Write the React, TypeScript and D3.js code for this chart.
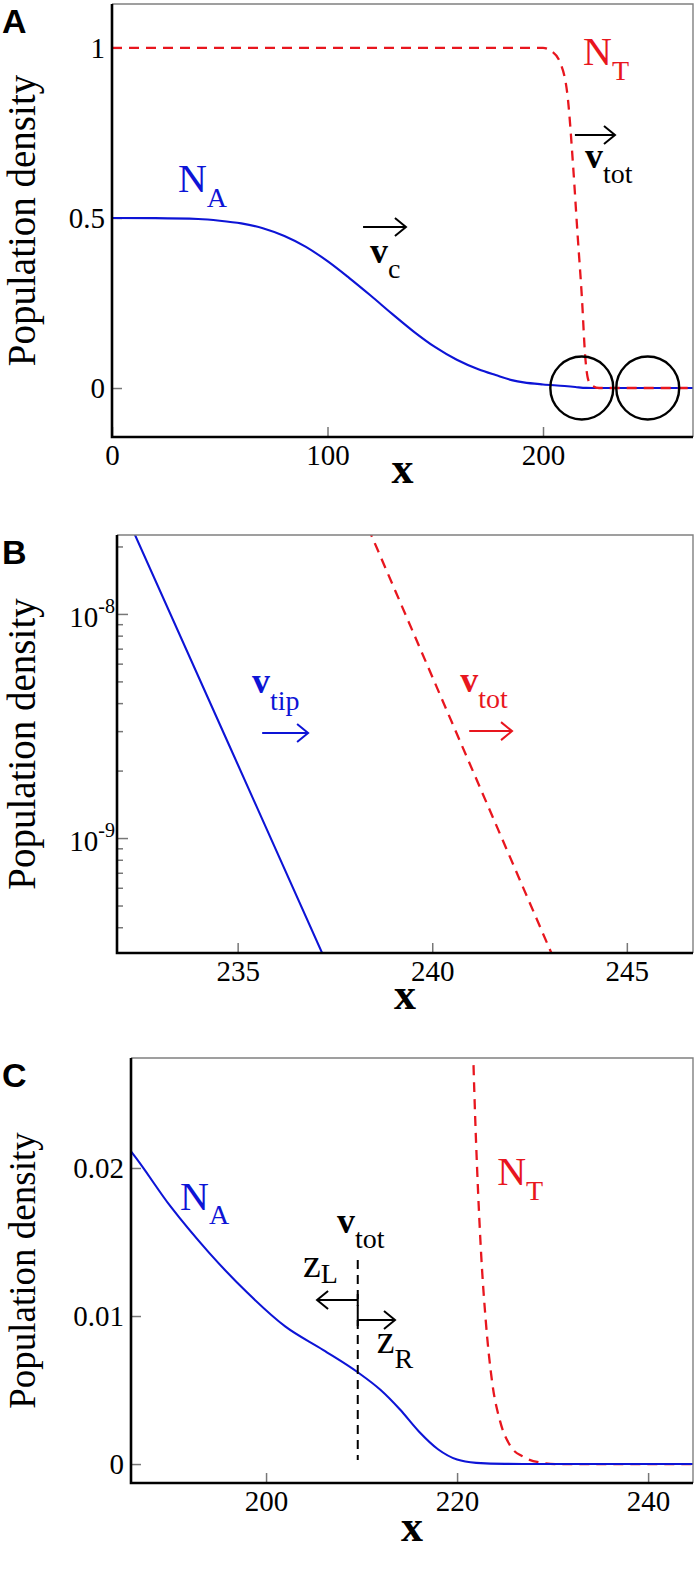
import React, { useEffect, useRef } from "react";
import * as d3 from "d3";

// ---- data ----
// Panel A: full profiles
const aNaX = [0, 20, 40, 50, 60, 70, 80, 90, 100, 110, 120, 130, 140, 150, 160, 170, 178, 186, 191, 200, 210, 215, 220, 225, 272];
const aNaY = [0.5, 0.4995, 0.497, 0.492, 0.484, 0.47, 0.447, 0.415, 0.373, 0.324, 0.272, 0.218, 0.166, 0.12, 0.083, 0.055, 0.038, 0.0225, 0.0166, 0.0105, 0.006, 0.003, 0.0003, 0, 0];
const aNtX = [0, 200, 204, 208, 211.6, 214, 216, 218.1, 219.5, 221, 223, 226, 272];
const aNtY = [1, 1, 0.99, 0.956, 0.847, 0.65, 0.455, 0.26, 0.1, 0.024, 0.006, 0, 0];

// Panel B: leading edge, log scale
const bNaX = [232.3, 234.75, 237.2];
const bNaY = [2.38e-8, 2.67e-9, 2.99e-10];
const bNtX = [238.35, 240.7, 243.1];
const bNtY = [2.43e-8, 2.74e-9, 2.96e-10];

// Panel C: zoom near the front
const cNaX = [185.5, 186, 190, 194, 198, 202, 206, 209.6, 212, 214, 216, 218, 220, 222, 225, 246];
const cNaY = [0.0214, 0.021, 0.0174, 0.0143, 0.0116, 0.0093, 0.0077, 0.0062, 0.005, 0.0037, 0.0022, 0.001, 0.0003, 0.00008, 0.00001, 0];
const cNtX = [221.4, 221.7, 221.9, 222.1, 222.5, 223, 223.7, 224.5, 225.6, 226.9, 228.7, 230.4, 246];
const cNtY = [0.035, 0.0274, 0.0233, 0.0199, 0.0144, 0.0097, 0.0054, 0.0029, 0.0012, 0.0005, 0.0001, 0, 0];

const aXTicks = [0, 100, 200];
const aYTicks = [0, 0.5, 1];
const bXTicks = [235, 240, 245];
const bYMajor = [1e-9, 1e-8];
const cXTicks = [200, 220, 240];
const cYTicks = [0, 0.01, 0.02];

const BLUE = "#0d14d6";
const RED = "#e8161e";
const SERIF = "Liberation Serif, Times New Roman, serif";
const SANS = "Liberation Sans, Arial, sans-serif";

const App = () => {
  const svgRef = useRef<SVGSVGElement>(null);

  useEffect(() => {
    const svg = d3.select(svgRef.current);
    svg.selectAll("*").remove();

    const addLabel = (g, p, l) => {
      const t = g
        .append("text")
        .attr("x", p.x(l.x))
        .attr("y", p.y(l.y))
        .attr("fill", l.color)
        .style("font-family", SERIF);
      t.append("tspan")
        .style("font-size", `${l.size}px`)
        .style("font-weight", l.bold ? "bold" : "normal")
        .text(l.main);
      t.append("tspan").style("font-size", "28px").attr("dy", l.subDy).text(l.sub);
    };

    const addArrow = (g, p, a) => {
      const xa = p.x(a.x0);
      const xb = p.x(a.x1);
      const yy = p.y(a.y);
      const dir = Math.sign(xb - xa);
      g.append("path")
        .attr("d", `M${xa},${yy}H${xb}M${xb - dir * 11},${yy - 9}L${xb},${yy}L${xb - dir * 11},${yy + 9}`)
        .attr("fill", "none")
        .attr("stroke", a.color)
        .attr("stroke-width", 2);
      if (a.stop) {
        g.append("line")
          .attr("x1", xa).attr("x2", xa)
          .attr("y1", yy - 6).attr("y2", yy + 6)
          .attr("stroke", a.color)
          .attr("stroke-width", 2);
      }
    };

    const styleAxis = (ax) => {
      ax.select(".domain").remove();
      ax.selectAll(".tick line").attr("stroke", "#777").attr("stroke-width", 1.5);
      ax.selectAll(".tick text")
        .attr("fill", "#000")
        .style("font-family", SERIF)
        .style("font-size", "29px");
    };

    const drawPanel = (p) => {
      const g = svg.append("g");
      const [x0, x1] = p.x.range();
      const [yb, yt] = p.y.range();
      const clipId = "clip" + p.name;

      g.append("clipPath")
        .attr("id", clipId)
        .append("rect")
        .attr("x", x0)
        .attr("y", yt)
        .attr("width", x1 - x0)
        .attr("height", yb - yt);

      // ticks (inside) + labels
      const xAxis = g
        .append("g")
        .attr("transform", `translate(0,${yb})`)
        .call(
          d3.axisBottom(p.x)
            .tickValues(p.xTicks)
            .tickSize(-10)
            .tickPadding(7)
            .tickFormat((d) => String(d))
        );
      styleAxis(xAxis);

      if (p.log) {
        const minor = p.y.ticks().filter((t) => !p.yTicks.some((m) => Math.abs(m - t) / m < 1e-6));
        const minorAxis = g
          .append("g")
          .attr("transform", `translate(${x0},0)`)
          .call(d3.axisLeft(p.y).tickValues(minor).tickSize(-6).tickFormat(() => ""));
        styleAxis(minorAxis);
        const majorAxis = g
          .append("g")
          .attr("transform", `translate(${x0},0)`)
          .call(d3.axisLeft(p.y).tickValues(p.yTicks).tickSize(-11).tickFormat(() => ""));
        styleAxis(majorAxis);
        p.yTicks.forEach((t) => {
          const txt = g
            .append("text")
            .attr("x", x0 - 2)
            .attr("y", p.y(t) + 13)
            .attr("text-anchor", "end")
            .style("font-family", SERIF)
            .style("font-size", "29px");
          txt.append("tspan").text("10");
          txt.append("tspan")
            .style("font-size", "20px")
            .attr("dy", -14)
            .text(String(Math.round(Math.log10(t))));
        });
      } else {
        const yAxis = g
          .append("g")
          .attr("transform", `translate(${x0},0)`)
          .call(
            d3.axisLeft(p.y)
              .tickValues(p.yTicks)
              .tickSize(-10)
              .tickPadding(7)
              .tickFormat((d) => String(d))
          );
        styleAxis(yAxis);
      }

      // curves
      const plot = g.append("g").attr("clip-path", `url(#${clipId})`);
      p.series.forEach((s) => {
        const pts = s.xs.map((x, i) => [x, s.ys[i]]);
        plot
          .append("path")
          .datum(pts)
          .attr("fill", "none")
          .attr("stroke", s.color)
          .attr("stroke-width", s.dashed ? 2.3 : 2.1)
          .attr("stroke-dasharray", s.dashed ? "10,7" : null)
          .attr(
            "d",
            d3.line()
              .x((d) => p.x(d[0]))
              .y((d) => p.y(d[1]))
              .curve(p.log ? d3.curveLinear : d3.curveMonotoneX)
          );
      });

      (p.vlines || []).forEach((v) => {
        g.append("line")
          .attr("x1", p.x(v.x)).attr("x2", p.x(v.x))
          .attr("y1", p.y(v.y0)).attr("y2", p.y(v.y1))
          .attr("stroke", "#000")
          .attr("stroke-width", 2)
          .attr("stroke-dasharray", "9,6");
      });

      (p.circles || []).forEach((c) => {
        g.append("circle")
          .attr("cx", p.x(c.x))
          .attr("cy", p.y(c.y))
          .attr("r", p.x(c.x + c.r) - p.x(c.x))
          .attr("fill", "none")
          .attr("stroke", "#000")
          .attr("stroke-width", 2.4);
      });

      (p.arrows || []).forEach((a) => addArrow(g, p, a));
      (p.labels || []).forEach((l) => addLabel(g, p, l));

      // frame
      g.append("path")
        .attr("d", `M${x0},${yt}H${x1}V${yb}`)
        .attr("fill", "none")
        .attr("stroke", "#808080")
        .attr("stroke-width", 1.4);
      g.append("path")
        .attr("d", `M${x0},${yt}V${yb}H${x1}`)
        .attr("fill", "none")
        .attr("stroke", "#000")
        .attr("stroke-width", 2.6);

      // axis titles
      g.append("text")
        .attr("x", (x0 + x1) / 2)
        .attr("y", yb + p.xTitleOffset)
        .attr("text-anchor", "middle")
        .style("font-family", SERIF)
        .style("font-weight", "bold")
        .style("font-size", "44px")
        .text("x");
      g.append("text")
        .attr("transform", `translate(35,${(yt + yb) / 2}) rotate(-90)`)
        .attr("text-anchor", "middle")
        .style("font-family", SERIF)
        .style("font-size", `${p.yTitleSize}px`)
        .text("Population density");
      g.append("text")
        .attr("x", 2)
        .attr("y", yt + 29)
        .style("font-family", SANS)
        .style("font-weight", "bold")
        .style("font-size", "34px")
        .text(p.name);
    };

    // Panel A
    drawPanel({
      name: "A",
      x: d3.scaleLinear().domain([0, 269.6]).range([112, 693]),
      y: d3.scaleLinear().domain([-0.144, 1.129]).range([437, 4]),
      xTicks: aXTicks,
      yTicks: aYTicks,
      xTitleOffset: 46,
      yTitleSize: 39,
      series: [
        { xs: aNaX, ys: aNaY, color: BLUE, dashed: false },
        { xs: aNtX, ys: aNtY, color: RED, dashed: true },
      ],
      circles: [
        { x: 218, y: 0, r: 14.6 },
        { x: 248.6, y: 0, r: 14.6 },
      ],
      arrows: [
        { x0: 116.5, x1: 136.4, y: 0.4735, color: "#000" },
        { x0: 214.8, x1: 233.4, y: 0.744, color: "#000" },
      ],
      labels: [
        { x: 30.6, y: 0.576, main: "N", sub: "A", color: BLUE, bold: false, size: 40, subDy: 15 },
        { x: 218.6, y: 0.95, main: "N", sub: "T", color: RED, bold: false, size: 40, subDy: 15 },
        { x: 119.7, y: 0.368, main: "v", sub: "c", color: "#000", bold: true, size: 36, subDy: 15 },
        { x: 219.5, y: 0.647, main: "v", sub: "tot", color: "#000", bold: true, size: 36, subDy: 15 },
      ],
    });

    // Panel B
    drawPanel({
      name: "B",
      log: true,
      x: d3.scaleLinear().domain([231.9, 246.7]).range([117, 693]),
      y: d3.scaleLog().domain([3.07e-10, 2.25e-8]).range([953, 535]),
      xTicks: bXTicks,
      yTicks: bYMajor,
      xTitleOffset: 56,
      yTitleSize: 39,
      series: [
        { xs: bNaX, ys: bNaY, color: BLUE, dashed: false },
        { xs: bNtX, ys: bNtY, color: RED, dashed: true },
      ],
      arrows: [
        { x0: 235.63, x1: 236.81, y: 2.94e-9, color: BLUE },
        { x0: 240.95, x1: 242.05, y: 3.0e-9, color: RED },
      ],
      labels: [
        { x: 235.37, y: 4.43e-9, main: "v", sub: "tip", color: BLUE, bold: true, size: 36, subDy: 17 },
        { x: 240.72, y: 4.49e-9, main: "v", sub: "tot", color: RED, bold: true, size: 36, subDy: 16 },
      ],
    });

    // Panel C
    drawPanel({
      name: "C",
      x: d3.scaleLinear().domain([185.86, 244.7]).range([131, 693]),
      y: d3.scaleLinear().domain([-0.00128, 0.02743]).range([1483, 1058]),
      xTicks: cXTicks,
      yTicks: cYTicks,
      xTitleOffset: 58,
      yTitleSize: 37,
      series: [
        { xs: cNtX, ys: cNtY, color: RED, dashed: true },
        { xs: cNaX, ys: cNaY, color: BLUE, dashed: false },
      ],
      vlines: [{ x: 209.6, y0: 0.01378, y1: 0.00027 }],
      arrows: [
        { x0: 209.6, x1: 205.34, y: 0.01108, color: "#000", stop: true },
        { x0: 209.6, x1: 213.5, y: 0.00973, color: "#000", stop: true },
      ],
      labels: [
        { x: 191.0, y: 0.01716, main: "N", sub: "A", color: BLUE, bold: false, size: 40, subDy: 14 },
        { x: 224.2, y: 0.01885, main: "N", sub: "T", color: RED, bold: false, size: 40, subDy: 15 },
        { x: 207.43, y: 0.0156, main: "v", sub: "tot", color: "#000", bold: true, size: 36, subDy: 15 },
        { x: 203.87, y: 0.01264, main: "z", sub: "L", color: "#000", bold: false, size: 40, subDy: 6 },
        { x: 211.6, y: 0.0075, main: "z", sub: "R", color: "#000", bold: false, size: 40, subDy: 15 },
      ],
    });
  }, []);

  return (
    <svg
      ref={svgRef}
      width={697}
      height={1583}
      style={{ position: "absolute", left: 0, top: 0, background: "#fff" }}
    ></svg>
  );
};

export default App;
